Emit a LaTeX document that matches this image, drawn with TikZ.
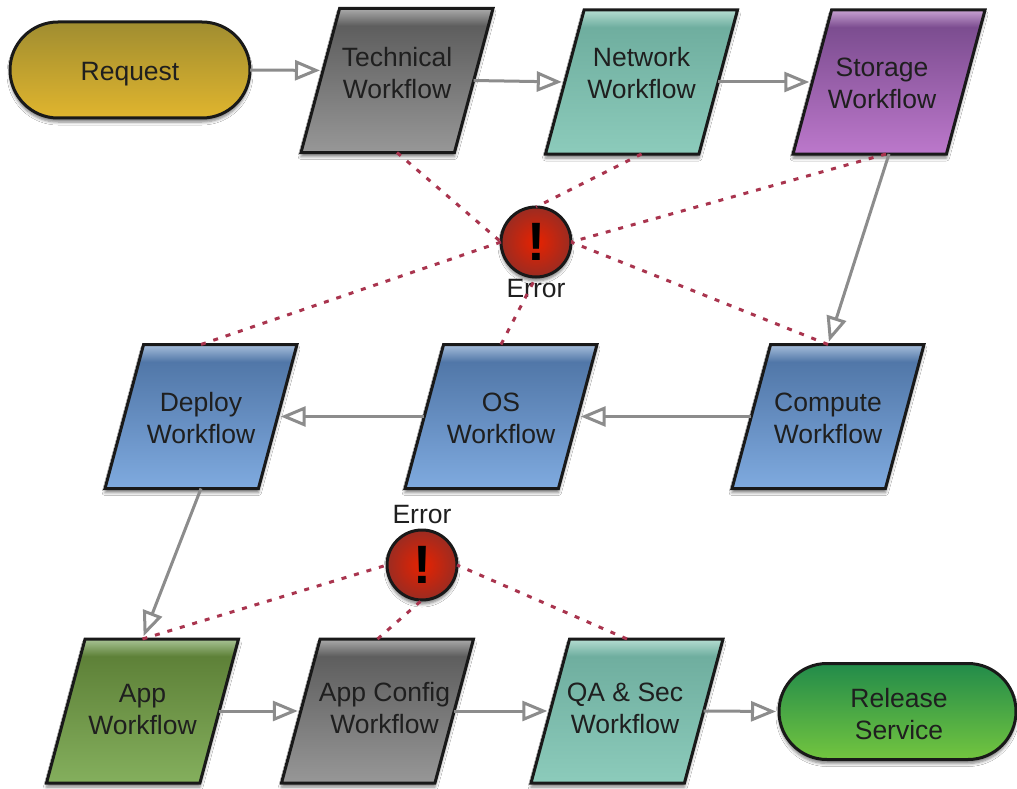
\documentclass[tikz,border=0pt]{standalone}
\usepackage{fontspec}
\setmainfont{Liberation Sans}
\usetikzlibrary{shapes.geometric,shapes.misc,arrows.meta,calc,shadows.blur}
\definecolor{reqB}{HTML}{E0B52E}\definecolor{reqT}{HTML}{A08D30}
\definecolor{gryB}{HTML}{979797}\definecolor{gryM}{HTML}{5E5E5E}\definecolor{gryT}{HTML}{ABABAB}
\definecolor{tealB}{HTML}{8CCBBB}\definecolor{tealM}{HTML}{6FAE9F}\definecolor{tealT}{HTML}{B5DDD2}
\definecolor{purB}{HTML}{BC78CB}\definecolor{purM}{HTML}{7C4D90}\definecolor{purT}{HTML}{C8A2D2}
\definecolor{bluB}{HTML}{7FAADF}\definecolor{bluM}{HTML}{5177A8}\definecolor{bluT}{HTML}{A8BFDB}
\definecolor{grnB}{HTML}{84AF5D}\definecolor{grnM}{HTML}{5E8138}\definecolor{grnT}{HTML}{A9C496}
\definecolor{relB}{HTML}{73C53F}\definecolor{relT}{HTML}{228B4A}
\definecolor{errC}{HTML}{E82200}\definecolor{errE}{HTML}{9E2B20}
\definecolor{conn}{HTML}{8C8C8C}\definecolor{errline}{HTML}{A9344E}
\newcommand\mkband[4]{\pgfdeclareverticalshading{#1}{100bp}{color(0bp)=(#2); color(25bp)=(#2); color(69bp)=(#3); color(75bp)=(#4); color(100bp)=(#4)}}
\mkband{gryS}{gryB}{gryM}{gryT}
\mkband{tealS}{tealB}{tealM}{tealT}
\mkband{purS}{purB}{purM}{purT}
\mkband{bluS}{bluB}{bluM}{bluT}
\mkband{grnS}{grnB}{grnM}{grnT}
\pgfdeclareradialshading{errS}{\pgfpoint{0bp}{0bp}}{color(0bp)=(errC); color(24bp)=(errE); color(50bp)=(errE)}
\def\wfdx{0pt}
\newcommand\twolines[3][0pt]{\raisebox{#1}[0pt][0pt]{\makebox[0pt]{\kern\wfdx\kern\wfdx\begin{tabular}{@{}c@{}}#2\\#3\end{tabular}}}}
\newcommand\wfbody[3][0pt]{\rule[-72pt]{0pt}{144pt}\twolines[#1]{#2}{#3}}
\tikzset{
  every node/.style={font=\fontsize{26.5}{32}\selectfont,text=black!88,inner sep=0pt,outer sep=0pt},
  textshift/.style={execute at begin node={\def\wfdx{#1}}},
  softshadow/.style={blur shadow={shadow xshift=0pt,shadow yshift=-4pt,shadow blur radius=3pt,shadow blur steps=5,shadow opacity=50}},
  workflow/.style={trapezium,trapezium stretches body=true,trapezium left angle=75,trapezium right angle=105,
    minimum width=192pt,draw=black!90,line width=3pt,line join=miter,softshadow,shading=#1},
  terminal/.style={rounded rectangle,minimum height=96pt,draw=black!90,line width=3pt,softshadow,align=center},
  alert/.style={circle,minimum size=70pt,draw=black!90,line width=3pt,softshadow,shading=errS},
  flow/.style={draw=conn,line width=3pt,shorten >=3pt,-{Triangle[open,fill=white,length=25pt,width=20pt,line width=3pt]}},
  errlink/.style={draw=errline,line width=3pt,dash pattern=on 5pt off 8pt},
}
\begin{document}
\begin{tikzpicture}[x=1pt,y=-1pt]
\useasboundingbox (0,0) rectangle (1017,789);
\fill[white] (0,0) rectangle (1017,789);
% nodes
\node[terminal,minimum width=240pt,top color=reqT,bottom color=reqB] (req) at (130,70) {\raisebox{-11pt}[0pt][0pt]{Request}};
\node[workflow=gryS] (tech) at (397,80.5) {\wfbody[-1.5pt]{Technical}{Workflow}};
\node[workflow=tealS] (net) at (641.5,82) {\wfbody[0pt]{Network}{Workflow}};
\node[workflow=purS,textshift=-7pt] (stor) at (889,82) {\wfbody[-10pt]{Storage}{Workflow}};
\node[workflow=bluS] (comp) at (828,416.5) {\wfbody[-10.5pt]{Compute}{Workflow}};
\node[workflow=bluS] (os) at (501,416.5) {\wfbody[-11pt]{OS}{Workflow}};
\node[workflow=bluS] (dep) at (201,416.5) {\wfbody[-10.5pt]{Deploy}{Workflow}};
\node[workflow=grnS] (app) at (142.5,711) {\wfbody[-7pt]{App}{Workflow}};
\node[workflow=gryS,textshift=7pt] (cfg) at (377.5,711) {\wfbody[-6pt]{App Config}{Workflow}};
\node[workflow=tealS,textshift=-2pt] (qa) at (627,711) {\wfbody[-6pt]{QA \& Sec}{Workflow}};
\node[terminal,minimum width=237pt,textshift=1.5pt,top color=relT,bottom color=relB] (rel) at (897.5,711.5) {\twolines[-11.5pt]{Release}{Service}};
\node (err1txt) at (536,289) {Error};
\node (err2txt) at (422,515) {Error};
\node[alert] (err1) at (536,242) {};
\node[alert] (err2) at (422,565) {};
\node[font=\fontsize{54}{54}\selectfont\bfseries,text=black] (bang1) at (err1) {!};
\node[font=\fontsize{54}{54}\selectfont\bfseries,text=black] (bang2) at (err2) {!};
% process flow
\draw[flow] (req.east) -- ($(tech.bottom left corner)!.57!(tech.top left corner)$);
\draw[flow] (tech.east) -- (net.west);
\draw[flow] (net.east) -- (stor.west);
\draw[flow] (stor |- stor.bottom side) -- (comp |- comp.top side);
\draw[flow] (comp.west) -- (os.east);
\draw[flow] (os.west) -- (dep.east);
\draw[flow] (dep |- dep.bottom side) -- (app |- app.top side);
\draw[flow] (app.east) -- (cfg.west);
\draw[flow] (cfg.east) -- (qa.west);
\draw[flow] (qa.east) -- (rel.west);
% error links
\draw[errlink] (tech |- tech.bottom side) -- (err1.west);
\draw[errlink] (net |- net.bottom side) -- (err1.north);
\draw[errlink] (stor |- stor.bottom side) ++(-3,0) -- (err1.east);
\draw[errlink] (comp |- comp.top side) -- (err1.east);
\draw[errlink] (os |- os.top side) -- (err1.south);
\draw[errlink] (dep |- dep.top side) -- (err1.west);
\draw[errlink] (app |- app.top side) -- (err2.west);
\draw[errlink] (cfg |- cfg.top side) -- (err2.south);
\draw[errlink] (qa |- qa.top side) -- (err2.east);
\end{tikzpicture}
\end{document}
